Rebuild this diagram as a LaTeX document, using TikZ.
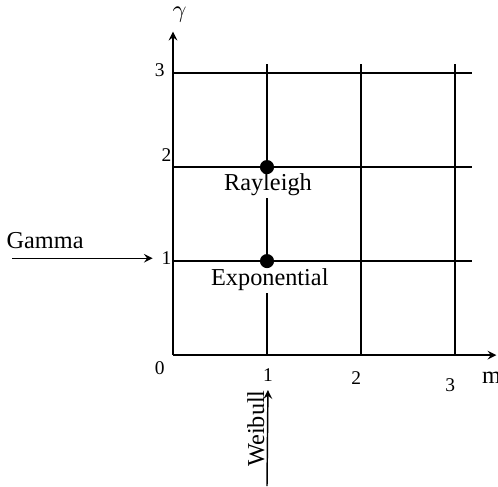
\documentclass[tikz,border=0pt]{standalone}
\usepackage{fontspec}
\setmainfont{Liberation Serif}
\begin{document}
\begin{tikzpicture}[>=stealth, x=1.36cm, y=1.36cm, line width=0.6pt]
 \useasboundingbox (-1.84,-1.394) rectangle (3.457,3.777);
 \foreach \k in {1,2,3} {
  \draw (0,\k) -- (3.18,\k);
  \draw (\k,0) -- (\k,3.1);
 }
 \draw[->] (0,0) -- (3.44,0);
 \draw[->] (0,0) -- (0,3.44);
 \node (gam) at (0.07,3.62) {$\gamma$};
 \node[font=\footnotesize] (yt3) at (-0.14,3.03) {3};
 \node[font=\footnotesize] (yt2) at (-0.07,2.13) {2};
 \node[font=\footnotesize] (yt1) at (-0.07,1.03) {1};
 \node[font=\footnotesize] (yt0) at (-0.14,-0.14) {0};
 \node[font=\footnotesize] (xt1) at (1.01,-0.21) {1};
 \node[font=\footnotesize] (xt2) at (1.95,-0.245) {2};
 \node[font=\footnotesize] (xt3) at (2.95,-0.32) {3};
 \node (mlab) at (3.39,-0.245) {m};
 \node[fill=white, inner sep=1pt] (ray) at (1.01,1.81) {Rayleigh};
 \node[fill=white, inner sep=1pt] (expo) at (1.03,0.8) {Exponential};
 \fill (1,2) circle (0.075);
 \fill (1,1) circle (0.075);
 % Gamma
 \node (gamma) at (-1.36,1.22) {Gamma};
 \coordinate (g0) at (-1.71,1.03);
 \draw[->] (g0) -- (yt1.west);
 % Weibull
 \coordinate (w0) at (1.0,-1.394);
 \draw[->] (w0) -- (xt1.south);
 \node[rotate=90, anchor=base] (weib) at (0.97,-0.78) {Weibull};
\end{tikzpicture}
\end{document}
